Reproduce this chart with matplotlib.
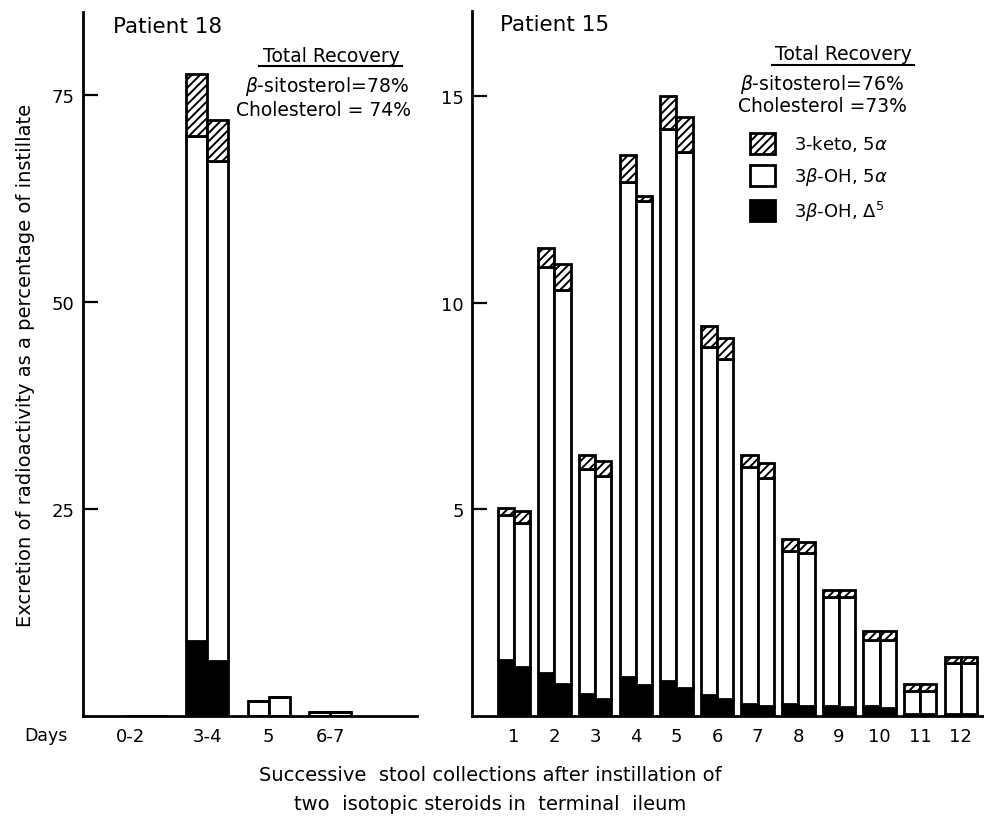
import matplotlib
matplotlib.use("Agg")
import matplotlib.pyplot as plt
import matplotlib.transforms as mtransforms
import numpy as np
from matplotlib.lines import Line2D

plt.rcParams['font.family'] = ['DejaVu Sans']
plt.rcParams['hatch.linewidth'] = 1.4
plt.rcParams['mathtext.fontset'] = 'dejavusans'

# ---------------- data ----------------
# Patient 18 (left panel)
p18_categories = ["0-2", "3-4", "5", "6-7"]
p18_black_a = [0.0, 9.0, 0.0, 0.0]
p18_white_a = [0.0, 61.0, 1.85, 0.5]
p18_hatch_a = [0.0, 7.5, 0.0, 0.0]
p18_black_b = [0.0, 6.6, 0.0, 0.0]
p18_white_b = [0.0, 60.4, 2.3, 0.5]
p18_hatch_b = [0.0, 5.0, 0.0, 0.0]

# Patient 15 (right panel)
p15_categories = ["1", "2", "3", "4", "5", "6", "7", "8", "9", "10", "11", "12"]
p15_black_a = [1.35, 1.05, 0.53, 0.94, 0.85, 0.50, 0.30, 0.30, 0.25, 0.25, 0.05, 0.05]
p15_black_b = [1.19, 0.77, 0.40, 0.75, 0.68, 0.40, 0.25, 0.25, 0.22, 0.20, 0.05, 0.05]
p15_wtop_a = [4.86, 10.86, 5.98, 12.92, 14.20, 8.93, 6.02, 4.00, 2.88, 1.84, 0.60, 1.28]
p15_wtop_b = [4.67, 10.30, 5.81, 12.46, 13.65, 8.64, 5.76, 3.94, 2.88, 1.84, 0.60, 1.28]
p15_total_a = [5.03, 11.32, 6.31, 13.57, 15.00, 9.44, 6.31, 4.28, 3.05, 2.06, 0.77, 1.43]
p15_total_b = [4.96, 10.94, 6.17, 12.58, 14.49, 9.15, 6.12, 4.20, 3.05, 2.06, 0.77, 1.43]

p18_yticks = [25, 50, 75]
p15_yticks = [5, 10, 15]

legend_labels = [r"3-keto, 5$\alpha$", r"3$\beta$-OH, 5$\alpha$", r"3$\beta$-OH, $\Delta^5$"]

W, H = 984, 820
fig = plt.figure(figsize=(W / 100, H / 100), dpi=100)


def fx(x):
    return x / W


def fy(y):
    return 1 - y / H


def stacked_pairs(ax, black_a, white_a, hatch_a, black_b, white_b, hatch_b, width):
    x = np.arange(len(black_a))
    handles = []
    for off, bl, wh, ha in ((-width / 2, black_a, white_a, hatch_a),
                            (width / 2, black_b, white_b, hatch_b)):
        bl = np.array(bl); wh = np.array(wh); ha = np.array(ha)
        hb = ax.bar(x + off, bl, width, color='black', edgecolor='black', linewidth=2)
        hw = ax.bar(x + off, wh, width, bottom=bl, color='white', edgecolor='black', linewidth=2)
        hh = ax.bar(x + off, ha, width, bottom=bl + wh, color='white', edgecolor='black',
                    linewidth=2, hatch='////')
        handles = [hh, hw, hb]
    return handles


def style(ax):
    for s in ('top', 'right'):
        ax.spines[s].set_visible(False)
    for s in ('left', 'bottom'):
        ax.spines[s].set_linewidth(2)
    ax.tick_params(axis='y', direction='in', length=11, width=1.6, labelsize=13, pad=6)
    ax.tick_params(axis='x', length=0, labelsize=13, pad=8)


# ---------------- left panel ----------------
axL = fig.add_axes([fx(83), fy(717), fx(417) - fx(83), fy(13) - fy(717)])
w18 = 0.34
stacked_pairs(axL, p18_black_a, p18_white_a, p18_hatch_a, p18_black_b, p18_white_b, p18_hatch_b, w18)
axL.set_xlim(-1.02, 4.41)
axL.set_ylim(0, 85.0)
axL.set_yticks(p18_yticks)
axL.set_xticks(np.arange(len(p18_categories)))
axL.set_xticklabels(p18_categories)
style(axL)
axL.set_ylabel("Excretion of radioactivity as a percentage of instillate", fontsize=14, labelpad=12)
# the "0-2" label sits a little left of the regular spacing in the original
first = axL.get_xticklabels()[0]
first.set_transform(first.get_transform() +
                    mtransforms.ScaledTranslation(-0.15, 0, fig.dpi_scale_trans))

# ---------------- right panel ----------------
axR = fig.add_axes([fx(472), fy(717), fx(984) - fx(472), fy(12) - fy(717)])
w15 = 0.40
p15_white_a = np.array(p15_wtop_a) - np.array(p15_black_a)
p15_white_b = np.array(p15_wtop_b) - np.array(p15_black_b)
p15_hatch_a = np.array(p15_total_a) - np.array(p15_wtop_a)
p15_hatch_b = np.array(p15_total_b) - np.array(p15_wtop_b)
handles = stacked_pairs(axR, p15_black_a, p15_white_a, p15_hatch_a,
                        p15_black_b, p15_white_b, p15_hatch_b, w15)
axR.set_xlim(-1.03, 11.57)
axR.set_ylim(0, 17.05)
axR.set_yticks(p15_yticks)
axR.set_xticks(np.arange(len(p15_categories)))
axR.set_xticklabels(p15_categories)
style(axR)

leg = axR.legend([h[0] for h in handles], legend_labels, frameon=False, fontsize=13,
                 handlelength=1.4, handleheight=1.4, handletextpad=1.05, labelspacing=0.62,
                 loc='upper left',
                 bbox_to_anchor=((750 - 472) / (984 - 472), 1 - (134 - 12) / (717 - 12)),
                 borderaxespad=0, borderpad=0)

# ---------------- texts ----------------
fig.text(fx(113), fy(27), "Patient 18", fontsize=15.5, ha='left', va='center')
fig.text(fx(500), fy(25), "Patient 15", fontsize=15.5, ha='left', va='center')

fig.text(fx(331), fy(57), "Total Recovery", fontsize=13.5, ha='center', va='center')
fig.add_artist(Line2D([fx(259), fx(402)], [fy(67), fy(67)], color='black', lw=1.5))
fig.text(fx(327), fy(86), r"$\beta$-sitosterol=78%", fontsize=13.5, ha='center', va='center')
fig.text(fx(323), fy(110), "Cholesterol = 74%", fontsize=13.5, ha='center', va='center')

fig.text(fx(843), fy(55), "Total Recovery", fontsize=13.5, ha='center', va='center')
fig.add_artist(Line2D([fx(772), fx(914)], [fy(66), fy(66)], color='black', lw=1.5))
fig.text(fx(822), fy(84), r"$\beta$-sitosterol=76%", fontsize=13.5, ha='center', va='center')
fig.text(fx(822), fy(107), "Cholesterol =73%", fontsize=13.5, ha='center', va='center')

fig.text(fx(46), fy(736), "Days", fontsize=12.5, ha='center', va='center')

fig.text(fx(490), fy(776), "Successive  stool collections after instillation of",
         fontsize=14, ha='center', va='center')
fig.text(fx(490), fy(805), "two  isotopic steroids in  terminal  ileum",
         fontsize=14, ha='center', va='center')

fig.savefig("out.png", dpi=100)
